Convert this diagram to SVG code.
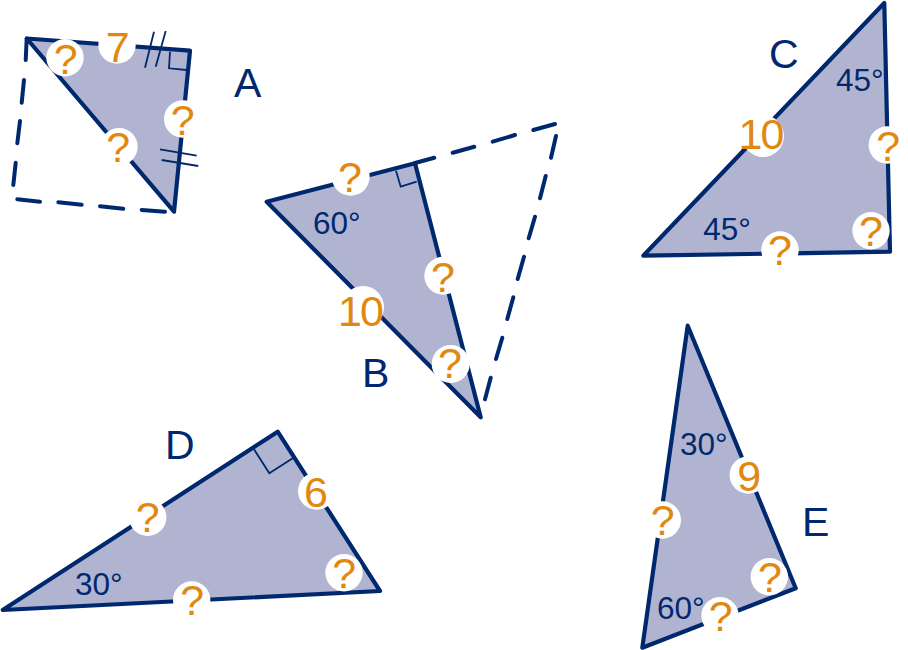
<svg xmlns="http://www.w3.org/2000/svg" width="908" height="650" viewBox="0 0 908 650">
<style>
.tri{fill:#b1b4d0;stroke:#00286e;stroke-width:4.2;stroke-linejoin:round}
.dash{fill:none;stroke:#00286e;stroke-width:4;stroke-linecap:round}
.thin{fill:none;stroke:#00286e;stroke-width:1.8}
.c{fill:#fff}
text{font-family:"Liberation Sans",Arial,sans-serif}
.q{font-size:43px;fill:#e0880f;text-anchor:middle}
.n{letter-spacing:-2px}
.l{font-size:41px;fill:#00286e}
.a{font-size:31.5px;fill:#00286e}
</style>
<rect width="908" height="650" fill="#fff"/>
<g id="triangle-a">
<path class="dash" d="M26.7 38.5L25.7 60M24 80L21.7 102.7M20 121L17.3 143.3M15.7 162.7L13.3 185M17.3 199.3L40 201.7M58.3 202.3L81.7 204.7M100 206.3L123.3 208.7M141.7 210L165 211.7"/>
<polygon class="tri" points="26.7,38.5 190,50.7 174,211.7"/>
<path class="thin" d="M154 31.7L145 67.7M165.7 31L155.7 66.7M160 149.3L196.7 155.7M161.7 160L198.3 166M170 51.7L169 68.3L186.7 70"/>
<circle class="c" cx="65" cy="57.7" r="18.7"/><circle class="c" cx="117" cy="45" r="18.7"/><circle class="c" cx="182.7" cy="119" r="18.7"/><circle class="c" cx="119" cy="146.7" r="18.7"/>
<text class="q" x="65.7" y="74">?</text><text class="q" x="117.7" y="61.7">7</text><text class="q" x="182.7" y="135">?</text><text class="q" x="118.3" y="162">?</text>
<text class="l" x="234" y="97">A</text>
</g>
<g id="triangle-b">
<path class="dash" d="M415 163L434.3 157.7M452.7 152.7L474.3 146.7M492.7 141.7L515 135M533.3 130L555 124M556 136L551 157.7M545.7 176L540 198.3M535 216.7L528.7 238.3M524 256.7L517.7 279M513.3 297.3L507.3 319M502.3 337.7L496 359M490.7 377.7L485 399.3"/>
<polygon class="tri" points="266.7,201.7 415,163.3 480.7,417.3"/>
<path class="thin" d="M396 170.7L400.7 186.7L416.7 181.7"/>
<circle class="c" cx="350.7" cy="176.7" r="19"/><circle class="c" cx="443.3" cy="275.7" r="19"/><circle class="c" cx="363" cy="307" r="21"/><circle class="c" cx="450.7" cy="364" r="19"/>
<text class="q" x="350" y="191.7">?</text><text class="q" x="443" y="291.7">?</text><text class="q n" x="360" y="326">10</text><text class="q" x="450" y="378">?</text>
<text class="a" x="313" y="234">60°</text>
<text class="l" x="362" y="387">B</text>
</g>
<g id="triangle-c">
<polygon class="tri" points="884.3,3 890,251.7 643.3,255.7"/>
<circle class="c" cx="763" cy="136" r="21"/><circle class="c" cx="887.3" cy="145" r="18.7"/><circle class="c" cx="871" cy="230.7" r="18.7"/><circle class="c" cx="780" cy="250" r="18.7"/>
<text class="q n" x="760.5" y="149">10</text><text class="q" x="888.3" y="161">?</text><text class="q" x="871" y="245.7">?</text><text class="q" x="780" y="265">?</text>
<text class="a" x="836" y="90.7">45°</text><text class="a" x="703.3" y="240">45°</text>
<text class="l" x="769" y="68">C</text>
</g>
<g id="triangle-d">
<polygon class="tri" points="2.7,610 277.7,431.7 380,591"/>
<path class="thin" d="M254 449.3L269.3 473.3L292.7 458.3"/>
<circle class="c" cx="147.7" cy="517.3" r="18.7"/><circle class="c" cx="316.7" cy="491" r="18.7"/><circle class="c" cx="344" cy="572.7" r="18.7"/><circle class="c" cx="191.7" cy="600" r="18.7"/>
<text class="q" x="147.7" y="531.7">?</text><text class="q" x="316" y="506.7">6</text><text class="q" x="344.3" y="588.3">?</text><text class="q" x="192.3" y="615">?</text>
<text class="a" x="75" y="595">30°</text>
<text class="l" x="165" y="459">D</text>
</g>
<g id="triangle-e">
<polygon class="tri" points="687.7,325.7 795.7,588.3 642.3,647.7"/>
<circle class="c" cx="748.3" cy="475" r="18.7"/><circle class="c" cx="662.3" cy="520" r="18.7"/><circle class="c" cx="769.3" cy="576.7" r="18.7"/><circle class="c" cx="720" cy="615.7" r="18.7"/>
<text class="q" x="749.3" y="490.7">9</text><text class="q" x="662.7" y="535">?</text><text class="q" x="770" y="591.7">?</text><text class="q" x="720.7" y="631">?</text>
<text class="a" x="680" y="455">30°</text><text class="a" x="657" y="619">60°</text>
<text class="l" x="802" y="536">E</text>
</g>
</svg>
